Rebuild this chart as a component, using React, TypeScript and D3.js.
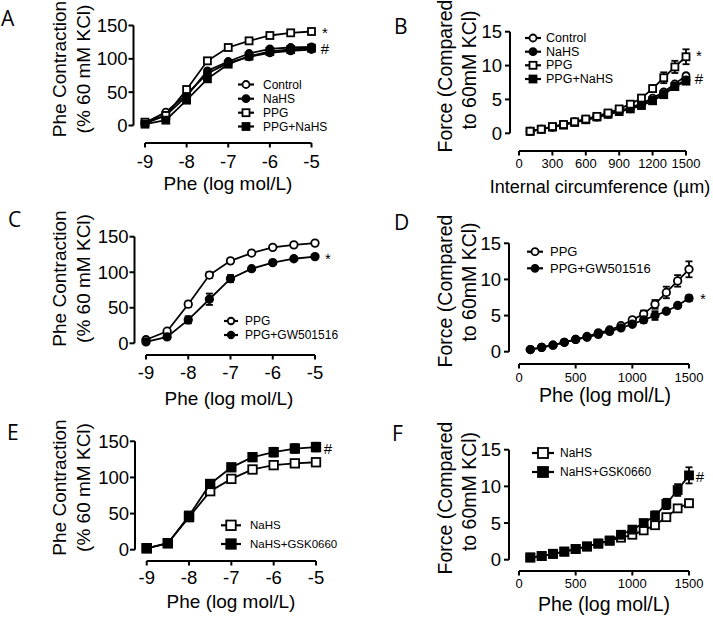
import React from 'react';
import * as d3 from 'd3';

// ---------- shared axes values ----------
const pheDoses = [-9, -8.5, -8, -7.5, -7, -6.5, -6, -5.5, -5];
const circumferences = [100, 200, 300, 400, 500, 600, 700, 800, 900, 1000, 1100, 1200, 1300, 1400, 1500];
const pheDoseTicks = [-9, -8, -7, -6, -5];
const phePercentTicks = [0, 50, 100, 150];
const forceTicks = [0, 5, 10, 15];
const circTicksB = [0, 300, 600, 900, 1200, 1500];
const circTicksDF = [0, 500, 1000, 1500];

// ---------- Panel A ----------
const aControl = [4, 20, 47, 78, 94, 103, 109, 112, 114];
const aNaHS = [3, 15, 44, 82, 96, 108, 115, 117, 118];
const aPPG = [5, 15, 54, 97, 117, 127, 135, 139, 141];
const aPPGNaHS = [2, 8, 38, 70, 92, 104, 111, 114, 116];

// ---------- Panel B ----------
const bControl = [0.3, 0.6, 0.9, 1.3, 1.7, 2.1, 2.5, 2.9, 3.3, 3.8, 4.4, 5.2, 6.1, 7.3, 8.5];
const bNaHS = [0.3, 0.6, 0.9, 1.3, 1.7, 2.0, 2.4, 2.8, 3.2, 3.6, 4.2, 4.9, 5.8, 7.0, 7.9];
const bPPG = [0.3, 0.6, 1.0, 1.3, 1.7, 2.1, 2.5, 3.0, 3.6, 4.3, 5.2, 6.6, 8.2, 9.8, 11.3];
const bPPGErr = [0, 0, 0, 0, 0, 0, 0, 0, 0.2, 0.3, 0.4, 0.5, 0.8, 0.9, 1.1];
const bPPGNaHS = [0.3, 0.6, 0.9, 1.2, 1.6, 2.0, 2.4, 2.8, 3.2, 3.6, 4.1, 4.8, 5.7, 6.9, 7.7];

// ---------- Panel C ----------
const cPPG = [5, 17, 55, 96, 116, 127, 135, 138.5, 141];
const cPPGErr = [0, 0, 4, 4, 3, 0, 0, 0, 0];
const cPPGGW = [2, 9, 33, 62, 91, 105, 113.5, 119, 122];
const cPPGGWErr = [0, 0, 5, 8, 5, 0, 0, 0, 0];

// ---------- Panel D ----------
const dPPG = [0.3, 0.6, 0.9, 1.3, 1.7, 2.1, 2.6, 3.0, 3.6, 4.4, 5.2, 6.55, 8.2, 9.8, 11.4];
const dPPGErr = [0, 0, 0, 0, 0, 0, 0, 0, 0.2, 0.3, 0.5, 0.6, 0.8, 0.8, 1.1];
const dPPGGW = [0.3, 0.6, 0.9, 1.3, 1.7, 2.0, 2.4, 2.8, 3.3, 3.8, 4.4, 5.0, 5.6, 6.4, 7.4];
const dPPGGWErr = [0, 0, 0, 0, 0, 0, 0, 0, 0, 0, 0.4, 0.6, 0, 0, 0.4];

// ---------- Panel E ----------
const eNaHS = [2, 9, 45, 81, 98, 111, 117, 119.5, 121];
const eNaHSGSK = [2, 9, 47, 91, 114, 128, 135, 140, 142];
const eNaHSGSKErr = [0, 0, 3, 4, 4, 5, 6, 6, 6];

// ---------- Panel F ----------
const fNaHS = [0.3, 0.5, 0.8, 1.1, 1.45, 1.8, 2.2, 2.6, 3.0, 3.4, 4.0, 4.7, 5.8, 7.0, 7.7];
const fNaHSErr = [0, 0, 0, 0, 0, 0, 0, 0, 0, 0, 0, 0, 0, 0.3, 0.5];
const fNaHSGSK = [0.3, 0.5, 0.8, 1.1, 1.45, 1.8, 2.2, 2.6, 3.4, 4.1, 5.0, 6.0, 7.6, 9.5, 11.5];
const fNaHSGSKErr = [0, 0, 0, 0, 0, 0, 0, 0, 0, 0, 0.4, 0.6, 0.7, 0.8, 1.1];

type Series = {
  name: string;
  values: number[];
  err?: number[];
  shape: 'circle' | 'square';
  filled: boolean;
};

type PanelCfg = {
  label: string;
  labelPos: [number, number];
  xs: number[];
  xDomain: [number, number];
  xRange: [number, number];
  yDomain: [number, number];
  yRange: [number, number];
  yAxisX: number;
  xAxisY: number;
  xTicks: number[];
  yTicks: number[];
  xTickFont: number;
  xTickBaseline: number;
  yTickFont: number;
  yTickGap: number;
  xTitle: string;
  xTitlePos: [number, number];
  xTitleFont: number;
  yTitle: { text: string; bx: number; cy: number }[];
  yTitleFont: number;
  series: Series[];
  markerSize: number;
  legend: { mx: number; half: number; tx: number; rows: number[]; font: number; size: number; order: number[] };
  notes: { text: string; x: number; y: number }[];
};

const FONT = '"Liberation Sans", Arial, Helvetica, sans-serif';
const SW = 1.8;

function Marker({ cx, cy, s, shape, filled }: { cx: number; cy: number; s: number; shape: string; filled: boolean }) {
  const fill = filled ? '#000' : '#fff';
  if (shape === 'circle') {
    return <circle cx={cx} cy={cy} r={s / 2} fill={fill} stroke="#000" strokeWidth={SW} />;
  }
  return <rect x={cx - s / 2} y={cy - s / 2} width={s} height={s} fill={fill} stroke="#000" strokeWidth={SW} />;
}

function Panel({ p }: { p: PanelCfg }) {
  const x = d3.scaleLinear().domain(p.xDomain).range(p.xRange);
  const y = d3.scaleLinear().domain(p.yDomain).range(p.yRange);
  const mk = (vals: number[]) =>
    d3.line<number>().x((_, i) => x(p.xs[i])).y((v) => y(v))(vals) || '';
  return (
    <g fontFamily={FONT}>
      <text x={p.labelPos[0]} y={p.labelPos[1]} fontSize={21} fontFamily={'"Open Sans", "Liberation Sans", sans-serif'}>
        {p.label}
      </text>
      {/* y axis */}
      <line x1={p.yAxisX} x2={p.yAxisX} y1={y(p.yDomain[0])} y2={y(p.yDomain[1])} stroke="#000" strokeWidth={2} />
      {p.yTicks.map((t) => (
        <g key={'y' + t}>
          <line x1={p.yAxisX - 5} x2={p.yAxisX} y1={y(t)} y2={y(t)} stroke="#000" strokeWidth={2} />
          <text x={p.yAxisX - p.yTickGap} y={y(t)} fontSize={p.yTickFont} textAnchor="end" dominantBaseline="central">
            {t}
          </text>
        </g>
      ))}
      {/* x axis */}
      <line x1={x(p.xDomain[0])} x2={x(p.xDomain[1])} y1={p.xAxisY} y2={p.xAxisY} stroke="#000" strokeWidth={2} />
      {p.xTicks.map((t) => (
        <g key={'x' + t}>
          <line x1={x(t)} x2={x(t)} y1={p.xAxisY} y2={p.xAxisY + 4.5} stroke="#000" strokeWidth={2} />
          <text x={x(t)} y={p.xTickBaseline} fontSize={p.xTickFont} textAnchor="middle">
            {t}
          </text>
        </g>
      ))}
      <text x={p.xTitlePos[0]} y={p.xTitlePos[1]} fontSize={p.xTitleFont} textAnchor="middle">
        {p.xTitle}
      </text>
      {p.yTitle.map((l, i) => (
        <text key={i} transform={`translate(${l.bx},${l.cy}) rotate(-90)`} fontSize={p.yTitleFont} textAnchor="middle">
          {l.text}
        </text>
      ))}
      {/* series */}
      {p.series.map((s, si) => (
        <g key={'s' + si}>
          <path d={mk(s.values)} fill="none" stroke="#000" strokeWidth={SW} />
          {s.err &&
            s.values.map((v, i) =>
              s.err![i] > 0 ? (
                <g key={'e' + i}>
                  <line x1={x(p.xs[i])} x2={x(p.xs[i])} y1={y(v - s.err![i])} y2={y(v + s.err![i])} stroke="#000" strokeWidth={SW} />
                  <line x1={x(p.xs[i]) - 3.5} x2={x(p.xs[i]) + 3.5} y1={y(v + s.err![i])} y2={y(v + s.err![i])} stroke="#000" strokeWidth={SW} />
                  <line x1={x(p.xs[i]) - 3.5} x2={x(p.xs[i]) + 3.5} y1={y(v - s.err![i])} y2={y(v - s.err![i])} stroke="#000" strokeWidth={SW} />
                </g>
              ) : null
            )}
          {s.values.map((v, i) => (
            <Marker key={'m' + i} cx={x(p.xs[i])} cy={y(v)} s={p.markerSize} shape={s.shape} filled={s.filled} />
          ))}
        </g>
      ))}
      {/* legend */}
      {p.legend.order.map((si, r) => {
        const s = p.series[si];
        const ly = p.legend.rows[r];
        return (
          <g key={'l' + si}>
            <line x1={p.legend.mx - p.legend.half} x2={p.legend.mx + p.legend.half} y1={ly} y2={ly} stroke="#000" strokeWidth={2.2} />
            <Marker cx={p.legend.mx} cy={ly} s={p.legend.size} shape={s.shape} filled={s.filled} />
            <text x={p.legend.tx} y={ly} fontSize={p.legend.font} dominantBaseline="central">
              {s.name}
            </text>
          </g>
        );
      })}
      {p.notes.map((n, i) => (
        <text key={'n' + i} x={n.x} y={n.y} fontSize={15} textAnchor="middle" dominantBaseline="central">
          {n.text}
        </text>
      ))}
    </g>
  );
}

const pheTitle = [
  { text: 'Phe Contraction', bx: 66 },
  { text: '(% 60 mM KCl)', bx: 89.5 },
];
const forceTitle = [
  { text: 'Force (Compared', bx: 452 },
  { text: 'to 60mM KCl)', bx: 476 },
];

const panels: PanelCfg[] = [
  {
    label: 'A',
    labelPos: [1, 26],
    xs: pheDoses,
    xDomain: [-9, -5],
    xRange: [145, 311.5],
    yDomain: [0, 150],
    yRange: [125.5, 25.5],
    yAxisX: 133.5,
    xAxisY: 143,
    xTicks: pheDoseTicks,
    yTicks: phePercentTicks,
    xTickFont: 18.5,
    xTickBaseline: 167.5,
    yTickFont: 18.5,
    yTickGap: 6,
    xTitle: 'Phe (log mol/L)',
    xTitlePos: [228, 190],
    xTitleFont: 19,
    yTitle: pheTitle.map((t) => ({ ...t, cy: 69 })),
    yTitleFont: 19,
    series: [
      { name: 'Control', values: aControl, shape: 'circle', filled: false },
      { name: 'NaHS', values: aNaHS, shape: 'circle', filled: true },
      { name: 'PPG', values: aPPG, shape: 'square', filled: false },
      { name: 'PPG+NaHS', values: aPPGNaHS, shape: 'square', filled: true },
    ],
    markerSize: 7,
    legend: { mx: 246, half: 8, tx: 263, rows: [84.5, 98.7, 112.7, 126.5], font: 12, size: 7, order: [0, 1, 2, 3] },
    notes: [
      { text: '*', x: 325, y: 32 },
      { text: '#', x: 325, y: 48 },
    ],
  },
  {
    label: 'B',
    labelPos: [394, 33.5],
    xs: circumferences,
    xDomain: [0, 1500],
    xRange: [519, 686],
    yDomain: [0, 15],
    yRange: [133.3, 31.7],
    yAxisX: 510,
    xAxisY: 151,
    xTicks: circTicksB,
    yTicks: forceTicks,
    xTickFont: 13,
    xTickBaseline: 168,
    yTickFont: 18.5,
    yTickGap: 8,
    xTitle: 'Internal circumference (µm)',
    xTitlePos: [600, 193],
    xTitleFont: 18,
    yTitle: [
      { ...forceTitle[0], cy: 76 },
      { ...forceTitle[1], cy: 70 },
    ],
    yTitleFont: 19.5,
    series: [
      { name: 'Control', values: bControl, shape: 'circle', filled: false },
      { name: 'NaHS', values: bNaHS, shape: 'circle', filled: true },
      { name: 'PPG+NaHS', values: bPPGNaHS, shape: 'square', filled: true },
      { name: 'PPG', values: bPPG, err: bPPGErr, shape: 'square', filled: false },
    ],
    markerSize: 7,
    legend: { mx: 533, half: 8, tx: 546, rows: [38, 51.7, 65.3, 79], font: 12.5, size: 7, order: [0, 1, 3, 2] },
    notes: [
      { text: '*', x: 699, y: 55 },
      { text: '#', x: 699, y: 78.5 },
    ],
  },
  {
    label: 'C',
    labelPos: [8, 227],
    xs: pheDoses,
    xDomain: [-9, -5],
    xRange: [146, 315],
    yDomain: [0, 150],
    yRange: [343.3, 236.7],
    yAxisX: 134.5,
    xAxisY: 355,
    xTicks: pheDoseTicks,
    yTicks: phePercentTicks,
    xTickFont: 18.5,
    xTickBaseline: 378.5,
    yTickFont: 18.5,
    yTickGap: 6,
    xTitle: 'Phe (log mol/L)',
    xTitlePos: [229, 405],
    xTitleFont: 19,
    yTitle: pheTitle.map((t) => ({ ...t, cy: 278.5 })),
    yTitleFont: 19,
    series: [
      { name: 'PPG', values: cPPG, err: cPPGErr, shape: 'circle', filled: false },
      { name: 'PPG+GW501516', values: cPPGGW, err: cPPGGWErr, shape: 'circle', filled: true },
    ],
    markerSize: 7.5,
    legend: { mx: 231, half: 7, tx: 245, rows: [321, 335], font: 12, size: 6.5, order: [0, 1] },
    notes: [{ text: '*', x: 328, y: 258.5 }],
  },
  {
    label: 'D',
    labelPos: [394, 230],
    xs: circumferences,
    xDomain: [0, 1500],
    xRange: [519, 689],
    yDomain: [0, 15],
    yRange: [351.7, 243.3],
    yAxisX: 509,
    xAxisY: 364,
    xTicks: circTicksDF,
    yTicks: forceTicks,
    xTickFont: 13,
    xTickBaseline: 382,
    yTickFont: 18.5,
    yTickGap: 8,
    xTitle: 'Phe (log mol/L)',
    xTitlePos: [605, 402],
    xTitleFont: 19.5,
    yTitle: [
      { ...forceTitle[0], cy: 291 },
      { ...forceTitle[1], cy: 282 },
    ],
    yTitleFont: 19.5,
    series: [
      { name: 'PPG', values: dPPG, err: dPPGErr, shape: 'circle', filled: false },
      { name: 'PPG+GW501516', values: dPPGGW, err: dPPGGWErr, shape: 'circle', filled: true },
    ],
    markerSize: 7.5,
    legend: { mx: 535, half: 8, tx: 550, rows: [251.7, 268.3], font: 13, size: 7, order: [0, 1] },
    notes: [{ text: '*', x: 703, y: 298.5 }],
  },
  {
    label: 'E',
    labelPos: [7, 440],
    xs: pheDoses,
    xDomain: [-9, -5],
    xRange: [146.7, 316],
    yDomain: [0, 150],
    yRange: [549.7, 441.3],
    yAxisX: 135,
    xAxisY: 561,
    xTicks: pheDoseTicks,
    yTicks: phePercentTicks,
    xTickFont: 18.5,
    xTickBaseline: 584,
    yTickFont: 18.5,
    yTickGap: 6,
    xTitle: 'Phe (log mol/L)',
    xTitlePos: [231, 608],
    xTitleFont: 19,
    yTitle: pheTitle.map((t) => ({ ...t, cy: 487.5 })),
    yTitleFont: 19,
    series: [
      { name: 'NaHS', values: eNaHS, shape: 'square', filled: false },
      { name: 'NaHS+GSK0660', values: eNaHSGSK, err: eNaHSGSKErr, shape: 'square', filled: true },
    ],
    markerSize: 8.5,
    legend: { mx: 231, half: 10, tx: 250, rows: [525.3, 544], font: 11.5, size: 9.5, order: [0, 1] },
    notes: [{ text: '#', x: 328, y: 448 }],
  },
  {
    label: 'F',
    labelPos: [392, 441],
    xs: circumferences,
    xDomain: [0, 1500],
    xRange: [519, 689],
    yDomain: [0, 15],
    yRange: [559.7, 449.7],
    yAxisX: 509,
    xAxisY: 571,
    xTicks: circTicksDF,
    yTicks: forceTicks,
    xTickFont: 13,
    xTickBaseline: 588,
    yTickFont: 18.5,
    yTickGap: 8,
    xTitle: 'Phe (log mol/L)',
    xTitlePos: [604, 611],
    xTitleFont: 19.5,
    yTitle: [
      { ...forceTitle[0], cy: 498 },
      { ...forceTitle[1], cy: 491.5 },
    ],
    yTitleFont: 19.5,
    series: [
      { name: 'NaHS', values: fNaHS, err: fNaHSErr, shape: 'square', filled: false },
      { name: 'NaHS+GSK0660', values: fNaHSGSK, err: fNaHSGSKErr, shape: 'square', filled: true },
    ],
    markerSize: 8,
    legend: { mx: 543, half: 11, tx: 560, rows: [453, 472], font: 12, size: 10, order: [0, 1] },
    notes: [{ text: '#', x: 700, y: 476.5 }],
  },
];

export default function App() {
  return (
    <svg
      width={713}
      height={618}
      viewBox="0 0 713 618"
      style={{ position: 'absolute', left: 0, top: 0, background: '#fff' }}
    >
      <rect x={0} y={0} width={713} height={618} fill="#fff" />
      {panels.map((p) => (
        <Panel key={p.label} p={p} />
      ))}
    </svg>
  );
}
